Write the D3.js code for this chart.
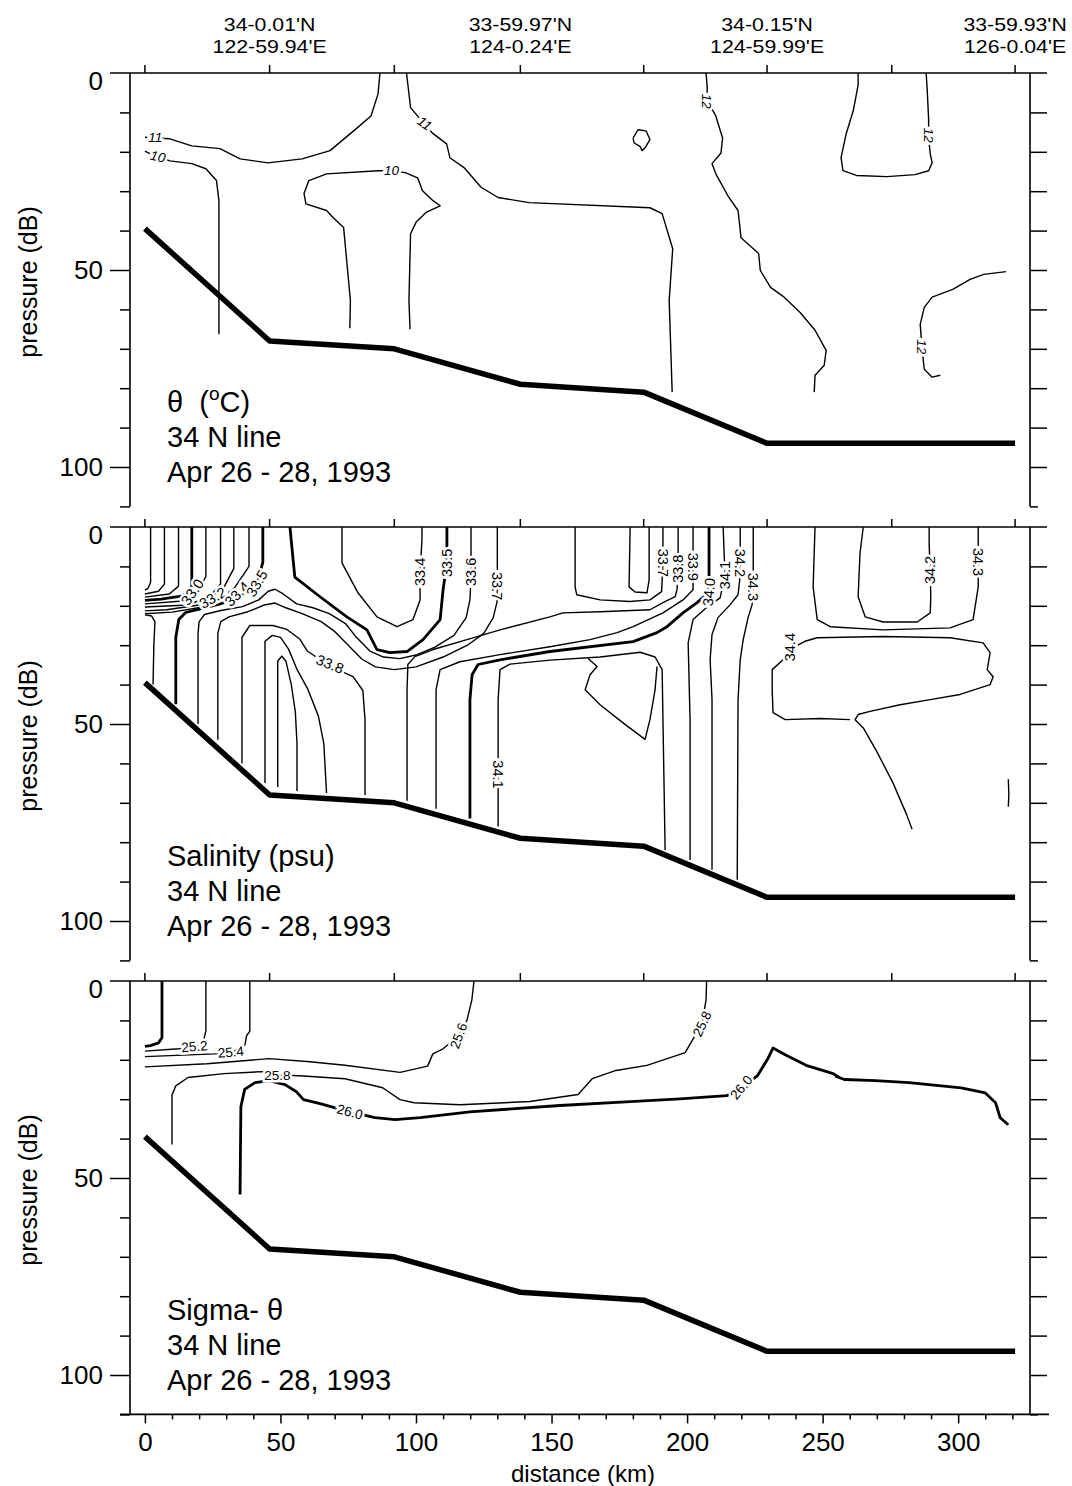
<!DOCTYPE html>
<html><head><meta charset="utf-8">
<script src="https://cdn.jsdelivr.net/npm/d3@7"></script>
<style>
body{margin:0;background:#fff;}
svg text{font-family:"Liberation Sans",Arial,Helvetica,sans-serif;fill:#000;}
</style></head><body>
<svg id="c" width="1072" height="1486"></svg>
<script>
// ---------------- DATA ----------------
const stations = [0, 46, 92, 138.5, 184, 229.5, 275.5, 321];
const stationLabels = [
  {km:46, lat:"34-0.01'N", lon:"122-59.94'E"},
  {km:138.5, lat:"33-59.97'N", lon:"124-0.24'E"},
  {km:229.5, lat:"34-0.15'N", lon:"124-59.99'E"},
  {km:321, lat:"33-59.93'N", lon:"126-0.04'E"}
];
const bathymetry = [[0,39.5],[46,68],[92,70],[138.5,79],[184,81],[229.5,94],[321,94]];
const distanceTicks = [0,50,100,150,200,250,300];
const distanceMinor = [10,20,30,40,60,70,80,90,110,120,130,140,160,170,180,190,210,220,230,240,260,270,280,290,310,320];
const pressureTicks = [0,50,100];
const pressureMinor = [10,20,30,40,60,70,80,90,110];
const panelTitles = [
  ["θ", "34 N line", "Apr 26 - 28, 1993"],
  ["Salinity (psu)", "34 N line", "Apr 26 - 28, 1993"],
  ["Sigma- θ", "34 N line", "Apr 26 - 28, 1993"]
];

// potential temperature contours [km, dB]
const thetaContours = [
 {w:1,p:[[0,16.3],[4,16.5],[9.2,16.7],[17.3,18.5],[27.7,19.2],[35.1,21.8],[45.4,22.8],[58,21.8],[68.3,19.7],[78.2,14],[83.4,10.9],[86,5.3],[86.7,0]]},
 {w:1,p:[[96.5,0],[98,8.8],[103,12.9],[106.3,15.4],[111.3,18],[112.5,21.5],[117.7,24],[124,29],[130.3,31.6],[141.7,32.9],[186.3,34.2],[190.8,35.7],[194.7,44.6],[193.4,57.7],[194.5,81]]},
 {w:1,p:[[0,19.8],[2,20.5],[9.2,22.3],[17.3,23],[22.5,24.3],[26.4,27.3],[27.3,32.4],[27.3,66.3]]},
 {w:1,p:[[75.6,64.8],[75.8,57.7],[73.3,39.2],[69.4,36.7],[67,34.9],[59.4,33.2],[58.7,30.6],[60.5,27.3],[67,25.6],[86,24.8],[91,24.8],[96,25.3],[100.6,26.6],[102.4,29.9],[106.3,32.4],[108.9,33.7],[103.7,35.4],[100,37.9],[98,40.8],[97.4,57.7],[97.8,65]]},
 {w:1,p:[[180.1,16.5],[181.9,14.4],[184.9,14.7],[186.3,16.9],[184.5,19],[183.4,19.7],[182.7,18.7],[180.4,17.7],[180.1,16.5]]},
 {w:1,p:[[207,0],[207.4,3.3],[207.4,7],[210.6,10.9],[213.1,16.5],[212.5,20.3],[209.2,23],[210.6,25.6],[215,31.1],[218.8,34.9],[219.9,41.8],[226.4,45.8],[227,50.1],[230.8,54.4],[235.8,56.9],[241.7,60.8],[247.2,65.3],[251.3,70.4],[250.6,74.2],[247.2,76.7],[246.9,81]]},
 {w:1,p:[[263.1,0],[263.1,3],[261.3,9.6],[258.7,15.4],[256.8,21.5],[257.5,24.8],[262.5,26],[273.8,26.3],[284.1,25.8],[289.1,24.8],[290.4,22.8],[289.7,20.5],[289.1,16.5],[289.1,11.7],[288.6,4.6],[288.2,0]]},
 {w:1,p:[[317.7,50.4],[309.4,51.1],[304.4,52.4],[298,54.9],[290.4,56.9],[287.5,59.5],[286,63.8],[286.7,70.1],[287.5,75.2],[290.4,77.2],[293.4,76.7]]}
];
const thetaLabels = [
 {t:"11",km:3.8,db:16.3,a:0},{t:"10",km:4.8,db:21.2,a:12},{t:"10",km:91,db:24.8,a:0},
 {t:"11",km:103.2,db:12.8,a:35},{t:"12",km:207.4,db:7.2,a:90},{t:"12",km:289.1,db:15.8,a:90},
 {t:"12",km:286.5,db:69.5,a:90}
];

// salinity contours [km, dB]
const salinityContours = [
 {w:1,p:[[2.1,0],[2.1,14],[1.2,15.5],[0,16]]},
 {w:1,p:[[7.2,0],[7.2,14.5],[5,16.3],[0,17]]},
 {w:1,p:[[12.4,0],[12.4,15],[9,17],[0,17.8]]},
 {w:2,p:[[17.3,0],[17.3,15],[14,17.5],[6,18.3],[0,18.6]]},
 {w:1,p:[[22.5,0],[22.5,12.5],[20,16],[14,18.8],[0,19.5]]},
 {w:1,p:[[27.9,0],[27.9,14.5],[24,17.5],[16,19.8],[0,20.3]]},
 {w:1,p:[[32.8,0],[32.8,10.5],[29,15.5],[20,19.8],[8,21],[0,21.3]]},
 {w:1,p:[[38.4,0],[38.4,10],[33,15.5],[24,20],[10,21.6],[0,22]]},
 {w:2,p:[[43.5,0],[43.5,9],[41,15],[35,18.2],[22,20.5],[15,21.7],[12.5,23.5],[11.4,28],[11.4,45]]},
 {w:1,p:[[0,22.3],[2.5,22.6],[3.7,24],[3.3,30],[3,40]]},
 {w:1,p:[[120.3,0],[120.3,8],[120.2,14],[119.9,18.5],[118.5,23],[114,27.5],[107,30.5],[100,32.5],[94,33.4],[88,33],[83,31.5],[78,28],[74,24.5],[68,22],[62,20.5],[56,19.5],[51,17],[48,15.8],[45.5,16.3],[42,18.5],[36,20.2],[28,21.2],[22,22.2],[20,24],[19.6,27],[19.6,50]]},
 {w:1,p:[[130,0],[130,11],[129.9,19],[128.5,23],[125,27],[119,30],[110,33],[100,35.5],[92,36.2],[85,35.5],[80,33.5],[75,30],[70,26.5],[65,24],[58,22],[52,20.5],[48,19.3],[44,19.8],[38,21.5],[31,22.8],[28,24],[26.9,27],[26.9,54]]},
 {w:1,p:[[35.8,60],[35.8,28],[38.7,25],[47.2,25],[52.4,26],[57.2,28.5],[59.8,31.4],[68.3,35.4],[76.8,38],[80.4,41.5],[81.2,48.9],[81.2,68]]},
 {w:1,p:[[44.3,65],[44.3,29],[47,27.5],[50,28],[53,31],[56,36],[60,41],[64,48],[66,55],[67,67.5]]},
 {w:1,p:[[49,66],[49,34],[50.5,32.8],[52,34],[54,40],[55.5,47],[56.1,55],[56.1,67]]},
 {w:2,p:[[53.5,0],[55.3,12.7],[64.6,17.7],[74.5,22.8],[81.9,26.1],[85.6,31.1],[90.4,31.9],[96.7,31.6],[102.6,28.6],[108.9,23.5],[110,15.9],[111.4,9.1],[111.4,2.5],[111.4,0]]},
 {w:1,p:[[72.7,0],[72.7,9.1],[78.6,16.7],[85.6,22.8],[93,25.3],[98.9,23.5],[101.5,18.5],[101.5,11.4],[102.2,3.3],[102.2,0]]},
 {w:1,p:[[158.7,0],[158.7,15.2],[159.3,17.2],[167.9,18.5],[179,18.9],[186.3,18.5],[190.6,16.4],[191.1,9.1],[191.1,2.5],[191.1,0]]},
 {w:1,p:[[179,0],[178.6,15.2],[180.8,16.5],[185.2,16.7],[186,13.4],[186,0]]},
 {w:1,p:[[196.7,0],[196.7,5.1],[196.7,10.9],[196.3,15.9],[195.6,17.7],[191.1,19.2],[186.3,21],[167.9,21.5],[154.2,21.8],[149.4,22.8],[131,26.1],[118.8,28.6],[106.3,31.1],[99.6,32.9],[97,34.9],[96.7,41.3],[96.7,69.5]]},
 {w:1,p:[[202.2,0],[202.2,10.1],[202.2,15.9],[198.5,18.5],[191.1,21.8],[180.1,25.3],[174.2,26.8],[164.2,28.6],[149.4,30.4],[131,32.4],[116.2,34.2],[108.9,36.2],[107.4,41.3],[107.4,71.5]]},
 {w:2,p:[[208.1,0],[208.1,12.2],[208.1,16.5],[203.7,19.2],[198.5,21.8],[192.6,25.3],[188.9,26.8],[180.1,29.1],[149.4,31.6],[131,33.7],[122.9,34.9],[120.7,37.5],[119.9,43.8],[119.9,74]]},
 {w:1,p:[[213.3,0],[213.7,7.1],[214,12.2],[212.2,18],[207.4,20.3],[202.2,23.5],[200.4,29.4],[201.1,48.9],[201.1,84.5]]},
 {w:1,p:[[130.3,76],[130.3,43.8],[131,36.2],[134.7,34.8],[149.4,33.8],[167.9,33],[182.7,31.8],[188.2,33],[190.8,36.2],[191.1,48.9],[191.9,82]]},
 {w:1,p:[[163.5,33.4],[166.8,35.4],[164.2,37.5],[162.4,41.3],[167.9,45.1],[177.1,50.1],[184.5,53.9],[186.3,48.9],[188.2,41.3],[188.9,35.4]]},
 {w:1,p:[[219.6,0],[219.6,6.3],[219.6,12.2],[218.8,17.2],[215.9,19.7],[211.4,23],[209.2,27.3],[208.5,33.7],[209.2,43.8],[209.2,87]]},
 {w:1,p:[[224.4,0],[224.4,10.1],[224.4,15.2],[224,19.7],[222.5,23],[220.7,28.6],[219.6,33.7],[218.8,43.8],[218.5,89.5]]},
 {w:1,p:[[247.2,0],[246.5,15.2],[248,23.5],[252.8,25.3],[272.3,26.1],[297,25.6],[305.5,23.5],[307.4,15.2],[307.4,8.9],[307.4,2.5],[307.4,0]]},
 {w:1,p:[[265,0],[263.8,6.6],[263.1,17.7],[265.7,22.8],[272.3,24.1],[284.9,24.1],[289.7,21.8],[289.9,17.7],[289.7,10.9],[289.3,4.6],[289.3,0]]},
 {w:1,p:[[238,31],[243.5,29],[248,28.1],[272.3,27.8],[297,28.1],[309.2,29.4],[311.8,31.9],[310.7,36.2],[312.9,38],[311.8,40],[300.7,42.5],[289.7,43.8],[278.6,45.1],[267.5,46.8],[263.1,47.6],[262,48.9],[265,51],[270,57],[276,65],[281,73],[283,76.7]]},
 {w:1,p:[[238,31],[235.4,33.7],[231.4,36.2],[231.4,41.3],[231.7,47.1],[236.2,48.9],[249,48.6],[260.1,48.9]]},
 {w:1,p:[[318.5,64],[318.7,68],[318.5,71]]}
];
const salinityLabels = [
 {t:"33.0",km:17.5,db:16.5,a:-55},{t:"33.2",km:25,db:18,a:-30},{t:"33.4",km:34,db:17,a:-45},{t:"33.5",km:41.3,db:14.3,a:-60},
 {t:"33.4",km:101.5,db:11.4,a:-90},{t:"33.5",km:111.4,db:9.1,a:-90},{t:"33.6",km:120.3,db:11.4,a:-90},{t:"33.7",km:130,db:15,a:90},
 {t:"33.8",km:68.3,db:34.8,a:22},
 {t:"33.7",km:191.1,db:9.1,a:90},{t:"33.8",km:196.7,db:10.6,a:-90},{t:"33.9",km:202.2,db:10.1,a:90},
 {t:"34.0",km:208.1,db:16.5,a:-85},{t:"34.1",km:214,db:12.2,a:-90},{t:"34.2",km:219.6,db:9.1,a:90},
 {t:"34.3",km:224.4,db:15.2,a:90},{t:"34.4",km:238,db:30.5,a:-90},{t:"34.1",km:130.3,db:62.8,a:90},
 {t:"34.2",km:289.7,db:10.9,a:-90},{t:"34.3",km:307.4,db:8.9,a:90}
];

// sigma-theta contours [km, dB]
const sigmaContours = [
 {w:2,p:[[6.3,0],[6.3,14.4],[5,15.7],[2,16.4],[0,16.6]]},
 {w:1,p:[[22.5,0],[22.5,12.7],[21.5,15.5],[18.5,16.7],[12.5,17.2],[0,17.8]]},
 {w:1,p:[[38.7,0],[38.7,12.7],[37.5,13.9],[36.9,16.2],[34,17.5],[31.7,18],[25.8,18.5],[0,19.2]]},
 {w:1,p:[[0,21.8],[22.9,21],[45.8,19.7],[60.9,20.5],[73.8,21.4],[94.1,23.2],[104.3,21.6],[106.2,18.5],[110,17.2],[115.7,13.9],[118.8,10],[120.6,4.8],[121.4,0]]},
 {w:1,p:[[10,41.5],[10,28.9],[11.4,26.6],[15.9,24.5],[29.2,23.5],[43.2,23],[48.9,23.8],[58.5,24.1],[73.8,24.8],[87.7,27.1],[94.1,30.1],[99.3,30.9],[116.2,31.4],[142,30.6],[159.8,28.8],[165,24.8],[173.8,22.7],[185.2,21.4],[199.3,18.2],[201.8,15.2],[205.5,10.9],[207,4.8],[207.2,0]]},
 {w:2,p:[[35.1,54.2],[35.4,31.9],[36.8,27.5],[40.6,25.8],[45.8,25.3],[51.7,26.3],[55.9,28.1],[58.5,30.1],[64.6,31.1],[75.6,33.2],[84.9,34.7],[92.3,35.2],[101.5,34.7],[119.9,33.2],[153.1,31.6],[179,30.6],[197.4,29.9],[214.6,29.1],[220.3,27.1],[226,24],[229.9,19.6],[231.7,17],[236.2,18.7],[243.9,21.4],[253.9,23.5],[256.5,24.6],[255,24.2],[258,25],[269.4,25.3],[281.9,25.8],[301.1,27.1],[310,28.4],[313.8,30.9],[315.5,34.7],[318.5,36.5]]}
];
const sigmaLabels = [
 {t:"25.2",km:18.3,db:16.6,a:-5},{t:"25.4",km:31.7,db:18,a:-5},{t:"25.6",km:115.7,db:13.9,a:-70},
 {t:"25.8",km:48.9,db:23.8,a:0},{t:"25.8",km:205.5,db:10.9,a:-65},{t:"26.0",km:75.6,db:33.2,a:15},
 {t:"26.0",km:220,db:27,a:-50}
];

// ---------------- DRAW ----------------
const svg = d3.select("#c");
const x = d3.scaleLinear().domain([-5.5, 326.5]).range([130, 1030]);
const panelTops = [73, 527, 981];
const PH = 433.4;

const panels = [
 {c:thetaContours, l:thetaLabels, italic:true, fs:13.5},
 {c:salinityContours, l:salinityLabels, italic:false, fs:14.5},
 {c:sigmaContours, l:sigmaLabels, italic:false, fs:13.5}
];

panels.forEach((pd, i) => {
  const top = panelTops[i];
  const y = d3.scaleLinear().domain([0, 110]).range([top, top + PH]);
  const g = svg.append("g");
  const line = d3.line().x(d => x(d[0])).y(d => y(d[1]));

  g.selectAll("path.ct").data(pd.c).join("path")
    .attr("d", d => line(d.p)).attr("fill", "none").attr("stroke", "#000")
    .attr("stroke-width", d => d.w === 2 ? 2.8 : 1.4).attr("stroke-linejoin", "round");

  g.selectAll("text.cl").data(pd.l).join("text")
    .attr("transform", d => `translate(${x(d.km)},${y(d.db)}) rotate(${d.a})`)
    .attr("text-anchor", "middle").attr("dy", "0.35em")
    .attr("font-size", pd.fs).attr("font-style", pd.italic ? "italic" : "normal")
    .attr("stroke", "#fff").attr("stroke-width", 5).attr("paint-order", "stroke")
    .text(d => d.t);

  g.append("path").attr("d", line(bathymetry)).attr("fill", "none")
    .attr("stroke", "#000").attr("stroke-width", 5.5).attr("stroke-linejoin", "round");

  g.append("line").attr("x1", 110).attr("x2", 1047).attr("y1", top).attr("y2", top).attr("stroke", "#000").attr("stroke-width", 1.6);
  g.append("line").attr("x1", 130).attr("x2", 130).attr("y1", top).attr("y2", top + PH).attr("stroke", "#000").attr("stroke-width", 1.6);
  g.append("line").attr("x1", 1030).attr("x2", 1030).attr("y1", top).attr("y2", top + PH).attr("stroke", "#000").attr("stroke-width", 1.6);

  g.selectAll("line.st").data(stations).join("line")
    .attr("x1", d => x(d)).attr("x2", d => x(d)).attr("y1", top).attr("y2", top - 8)
    .attr("stroke", "#000").attr("stroke-width", 1.5);

  const la = d3.axisLeft(y).tickValues(pressureMinor).tickSize(10).tickFormat("");
  const lag = g.append("g").attr("transform", "translate(130,0)").call(la);
  lag.select(".domain").remove();
  lag.selectAll("line").attr("stroke-width", 1.5);
  const lm = d3.axisLeft(y).tickValues([50, 100]).tickSize(20).tickFormat("");
  const lmg = g.append("g").attr("transform", "translate(130,0)").call(lm);
  lmg.select(".domain").remove();
  lmg.selectAll("line").attr("stroke-width", 1.5);
  const ra = d3.axisRight(y).tickValues(d3.range(10, 101, 10)).tickSize(17).tickFormat("");
  const rag = g.append("g").attr("transform", "translate(1030,0)").call(ra);
  rag.select(".domain").remove();
  rag.selectAll("line").attr("stroke-width", 1.5);
  const rb = d3.axisRight(y).tickValues([110]).tickSize(8).tickFormat("");
  const rbg = g.append("g").attr("transform", "translate(1030,0)").call(rb);
  rbg.select(".domain").remove();
  rbg.selectAll("line").attr("stroke-width", 1.5);

  g.selectAll("text.pl").data(pressureTicks).join("text")
    .attr("x", 103).attr("y", d => y(d) + (d === 0 ? 17 : 9))
    .attr("text-anchor", "end").attr("font-size", 26).text(d => d);

  g.append("text").attr("transform", `translate(37,${top + 209}) rotate(-90)`)
    .attr("text-anchor", "middle").attr("font-size", 25).text("pressure (dB)");

  const tx = 167;
  const t0 = g.append("text").attr("x", tx).attr("y", top + 339).attr("font-size", 29);
  if (i === 0) {
    t0.append("tspan").text("θ\u00A0\u00A0(");
    t0.append("tspan").attr("font-size", 19).attr("dy", -12).text("o");
    t0.append("tspan").attr("dy", 12).text("C)");
  } else {
    t0.text(panelTitles[i][0]);
  }
  g.append("text").attr("x", tx).attr("y", top + 374).attr("font-size", 29).text(panelTitles[i][1]);
  g.append("text").attr("x", tx).attr("y", top + 409).attr("font-size", 29).text(panelTitles[i][2]);
});

// station labels at top
const sl = svg.selectAll("g.sl").data(stationLabels).join("g")
  .attr("transform", d => `translate(${x(d.km)},0) scale(1.12,1)`);
sl.append("text").attr("x", 0).attr("y", 31).attr("text-anchor", "middle").attr("font-size", 19).text(d => d.lat);
sl.append("text").attr("x", 0).attr("y", 53).attr("text-anchor", "middle").attr("font-size", 19).text(d => d.lon);

// bottom axis
const bottom = panelTops[2] + PH;
svg.append("line").attr("x1", 120).attr("x2", 1049).attr("y1", bottom).attr("y2", bottom).attr("stroke", "#000").attr("stroke-width", 1.6);
const ba = d3.axisBottom(x).tickValues(distanceTicks).tickSize(9).tickFormat(d => d);
const bag = svg.append("g").attr("transform", `translate(0,${bottom})`).call(ba);
bag.select(".domain").remove();
bag.selectAll("line").attr("stroke-width", 1.5);
bag.selectAll("text").attr("font-size", 26).attr("dy", "0.95em").attr("font-family", "Liberation Sans, Arial, sans-serif").attr("fill", "#000");
const bm = d3.axisBottom(x).tickValues(distanceMinor).tickSize(5).tickFormat("");
const bmg = svg.append("g").attr("transform", `translate(0,${bottom})`).call(bm);
bmg.select(".domain").remove();
bmg.selectAll("line").attr("stroke-width", 1.5);
svg.append("text").attr("x", 583).attr("y", 1482).attr("text-anchor", "middle").attr("font-size", 24).text("distance (km)");
</script>
</body></html>
